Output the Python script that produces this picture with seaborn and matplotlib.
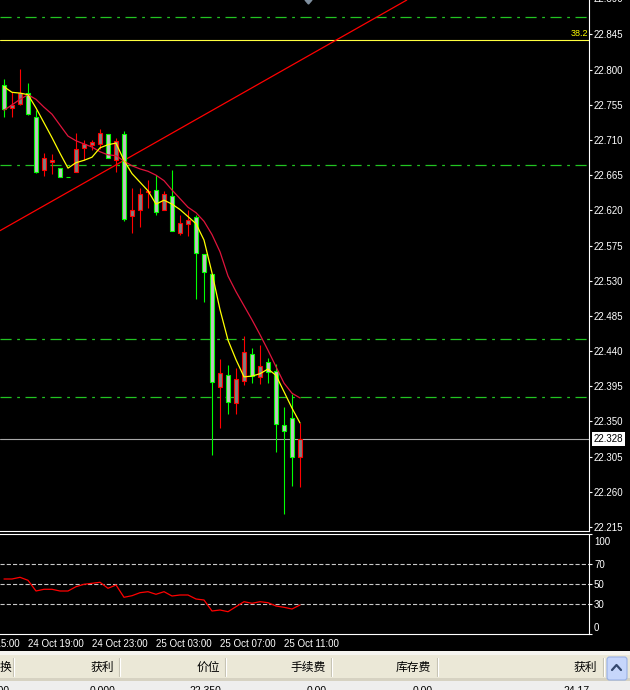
import numpy as np
import seaborn as sns
import matplotlib.pyplot as plt
from matplotlib.patches import Rectangle, Polygon, FancyBboxPatch
from matplotlib.lines import Line2D

# --- data: 30 minute bars, 24 Oct 17:30 .. 25 Oct 12:00 ---
opens = [22.780, 22.751, 22.756, 22.770, 22.739, 22.671, 22.682, 22.674, 22.663, 22.669,
         22.700, 22.704, 22.705, 22.718, 22.685, 22.718, 22.613, 22.621, 22.643, 22.646,
         22.621, 22.638, 22.591, 22.602, 22.611, 22.564, 22.539, 22.394, 22.410, 22.374,
         22.402, 22.436, 22.407, 22.426, 22.415, 22.345, 22.354, 22.305]
highs = [22.788, 22.772, 22.801, 22.783, 22.748, 22.694, 22.692, 22.674, 22.663, 22.719,
         22.710, 22.710, 22.724, 22.718, 22.712, 22.721, 22.648, 22.648, 22.659, 22.665,
         22.645, 22.671, 22.614, 22.621, 22.614, 22.564, 22.539, 22.430, 22.422, 22.418,
         22.459, 22.444, 22.448, 22.431, 22.423, 22.369, 22.385, 22.348]
lows = [22.739, 22.739, 22.755, 22.742, 22.668, 22.664, 22.666, 22.663, 22.663, 22.669,
        22.684, 22.697, 22.699, 22.687, 22.669, 22.606, 22.591, 22.599, 22.623, 22.614,
        22.620, 22.593, 22.588, 22.587, 22.507, 22.503, 22.307, 22.342, 22.359, 22.359,
        22.397, 22.399, 22.398, 22.399, 22.311, 22.232, 22.268, 22.266]
closes = [22.750, 22.755, 22.770, 22.743, 22.669, 22.687, 22.684, 22.663, 22.663, 22.699,
          22.705, 22.707, 22.719, 22.687, 22.709, 22.609, 22.620, 22.641, 22.645, 22.618,
          22.641, 22.594, 22.604, 22.608, 22.566, 22.541, 22.401, 22.412, 22.375, 22.404,
          22.439, 22.408, 22.421, 22.413, 22.347, 22.338, 22.305, 22.328]
ma_fast = [22.778, 22.771, 22.770, 22.768, 22.751, 22.732, 22.713, 22.693, 22.674, 22.681,
           22.684, 22.688, 22.700, 22.704, 22.706, 22.684, 22.667, 22.656, 22.645, 22.628,
           22.633, 22.628, 22.621, 22.612, 22.603, 22.582, 22.540, 22.493, 22.454, 22.429,
           22.407, 22.408, 22.411, 22.417, 22.409, 22.388, 22.367, 22.348]
ma_slow = [22.748, 22.755, 22.762, 22.768, 22.762, 22.752, 22.743, 22.729, 22.715, 22.709,
           22.705, 22.701, 22.695, 22.691, 22.690, 22.683, 22.677, 22.673, 22.670, 22.665,
           22.658, 22.646, 22.635, 22.624, 22.617, 22.606, 22.589, 22.567, 22.536, 22.516,
           22.498, 22.480, 22.461, 22.441, 22.420, 22.399, 22.386, 22.380]
rsi = [55.0, 55.0, 56.7, 53.7, 43.0, 44.7, 44.7, 43.0, 43.0, 47.3,
       49.7, 50.7, 51.7, 45.7, 49.0, 36.7, 38.3, 41.3, 42.3, 39.7,
       42.3, 38.0, 39.0, 39.0, 35.0, 34.0, 23.0, 24.0, 22.3, 27.3,
       32.3, 30.7, 32.3, 31.3, 28.0, 26.7, 25.0, 29.0]

time_pos = [-5, 3, 11, 19, 27, 35]
time_labels = ["24 Oct 15:00", "24 Oct 19:00", "24 Oct 23:00",
               "25 Oct 03:00", "25 Oct 07:00", "25 Oct 11:00"]
levels = [22.867, 22.678, 22.456, 22.381]
fib_level = 22.838
trend_x = [-0.5, 50.34]
trend_y = [22.594, 22.889]
bid = 22.328
rsi_levels = [70, 50, 30]

header = ["换", "获利", "价位", "手续费", "库存费", "获利"]
row_vals = ["0.00", "0.000", "22.350", "0.00", "0.00", "24.17"]

# --- figure in pixel layout ---
W, H = 630, 690
def fx(px): return px / W
def fy(py): return 1 - py / H

sns.set_theme(style="dark", rc={"axes.facecolor": "black", "figure.facecolor": "black",
                                "axes.grid": False, "lines.scale_dashes": False})
plt.rcParams["font.family"] = ["Liberation Sans", "DejaVu Sans"]

fig = plt.figure(figsize=(W / 100, H / 100), dpi=100)
ax = fig.add_axes([0, fy(531), fx(589), 531 / H])
ax2 = fig.add_axes([0, fy(634), fx(589), 100 / H])

x = np.arange(len(opens))
o = np.array(opens); c = np.array(closes)
up = c > o
edge = np.where(up, "#ff0000", "#00ff00")
fill = np.where(up, "#808080", "#c0c0c0")

for lv in levels:
    ax.axhline(lv, color="#22c422", lw=0.9, ls=(0, (8, 4, 2, 4)), zorder=1)
ax.axhline(fib_level, color="#ffff40", lw=0.8, zorder=1)
ax.axhline(bid, color="#a8a8a8", lw=0.8, zorder=1)
ax.plot(trend_x, trend_y, color="#ff0000", lw=0.9, zorder=1)

ax.vlines(x, lows, highs, colors=edge, lw=0.8, zorder=2)
ax.bar(x, np.abs(c - o), bottom=np.minimum(o, c), width=0.6, color=fill,
       edgecolor=edge, linewidth=0.8, zorder=3)

sns.lineplot(x=x, y=ma_slow, color="#e0143c", lw=0.9, ax=ax, zorder=4)
sns.lineplot(x=x, y=ma_fast, color="#ffff00", lw=0.9, ax=ax, zorder=5)

ax.set_xlim(-0.5, 73.125)
ax.set_ylim(22.2098, 22.8891)
price_ticks = np.round(np.arange(22.215, 22.846, 0.045), 3)
ax.yaxis.tick_right()
ax.set_yticks(price_ticks)
ax.set_yticklabels([f"{t:.3f}" for t in price_ticks])
ax.set_xticks([])
ax.tick_params(axis="y", colors="white", labelcolor="white", length=2.2, width=0.8,
               pad=1.4, labelsize=7)
ax.text(1 + 5 / 589, 22.890, "22.890", transform=ax.get_yaxis_transform(),
        ha="left", va="center", color="white", fontsize=7, clip_on=False)
ax.text(588 / 589, fib_level + 0.002, "38.2", transform=ax.get_yaxis_transform(),
        ha="right", va="bottom", color="#ffff00", fontsize=6.5)
ax.text(1 + 5 / 589, bid, f"{bid:.3f}", transform=ax.get_yaxis_transform(),
        ha="left", va="center", color="black", fontsize=7, clip_on=False, zorder=10,
        bbox=dict(boxstyle="square,pad=0.2", fc="white", ec="none"))
for s in ["left", "top"]:
    ax.spines[s].set_visible(False)
for s in ["right", "bottom"]:
    ax.spines[s].set_color("white")
    ax.spines[s].set_linewidth(0.8)
ax.set_xlabel(""); ax.set_ylabel("")

# --- RSI panel ---
for lv in rsi_levels:
    ax2.axhline(lv, color="#c8c8c8", lw=0.8, ls=(0, (3, 1.5)), zorder=1)
sns.lineplot(x=x, y=rsi, color="#ff0000", lw=0.9, ax=ax2, zorder=3)
ax2.set_xlim(-0.5, 73.125)
ax2.set_ylim(0, 100)
ax2.yaxis.tick_right()
ax2.set_yticks([0, 30, 50, 70, 100])
ax2.set_yticklabels(["", "30", "50", "70", ""])
ax2.tick_params(axis="y", colors="white", labelcolor="white", length=2.2, width=0.8,
                pad=1.4, labelsize=7)
ax2.text(1 + 5 / 589, 92.3, "100", transform=ax2.get_yaxis_transform(),
         ha="left", va="center", color="white", fontsize=7, clip_on=False)
ax2.text(1 + 5 / 589, 6.3, "0", transform=ax2.get_yaxis_transform(),
         ha="left", va="center", color="white", fontsize=7, clip_on=False)
ax2.set_xticks(time_pos[1:])
ax2.set_xticklabels([""] * (len(time_pos) - 1))
ax2.tick_params(axis="x", colors="white", length=2.9, width=0.8)
for p, lab in zip(time_pos, time_labels):
    ax2.annotate(lab, xy=(p, 0), xycoords=("data", "axes fraction"),
                 xytext=(0, -3.8), textcoords="offset points", ha="left", va="top",
                 color="white", fontsize=7, annotation_clip=False)
ax2.spines["left"].set_visible(False)
for s in ["right", "bottom", "top"]:
    ax2.spines[s].set_color("white")
    ax2.spines[s].set_linewidth(0.8)
ax2.set_xlabel(""); ax2.set_ylabel("")

# chart shift marker
fig.add_artist(Polygon([[fx(305), fy(0)], [fx(312), fy(0)], [fx(308.5), fy(4)]],
                       closed=True, transform=fig.transFigure, color="#8090a0"))

# --- terminal table strip ---
def rect(x0, y0, x1, y1, color):
    fig.add_artist(Rectangle((fx(x0), fy(y1)), (x1 - x0) / W, (y1 - y0) / H,
                             transform=fig.transFigure, facecolor=color, edgecolor="none"))

rect(0, 651, 630, 655, "#f6f5f0")
rect(0, 655, 630, 678, "#ebe8d7")
rect(0, 678, 630, 681, "#d6d2c2")
rect(0, 681, 630, 690, "#eeeeee")
for sx in [13, 119, 225, 331, 437, 603]:
    fig.add_artist(Line2D([fx(sx), fx(sx)], [fy(658), fy(676)], transform=fig.transFigure,
                          color="#c4c1b1", lw=0.8))
    fig.add_artist(Line2D([fx(sx + 1), fx(sx + 1)], [fy(658), fy(676)],
                          transform=fig.transFigure, color="white", lw=0.8))
fig.add_artist(FancyBboxPatch((fx(607), fy(680)), 20 / W, 23 / H,
                              boxstyle="round,pad=0,rounding_size=0.004",
                              transform=fig.transFigure, fc="#c6d6fb", ec="#98b0e4", lw=0.8))
fig.add_artist(Line2D([fx(612), fx(616.5), fx(621)], [fy(670), fy(665), fy(670)],
                      transform=fig.transFigure, color="#34486e", lw=1.6))

cjk = ["Noto Sans CJK SC", "DejaVu Sans"]
for r, lab in zip([11, 114.5, 220, 325.5, 431, 597], header):
    fig.text(fx(r), fy(667), lab, ha="right", va="center", fontsize=8.5,
             family=cjk, color="black")
for r, val in zip([10, 115, 221, 327, 433, 590], row_vals):
    fig.text(fx(r), fy(686.5), val, ha="right", va="top", fontsize=7.5, color="black")

fig.savefig("out.png", dpi=100, facecolor="black")
